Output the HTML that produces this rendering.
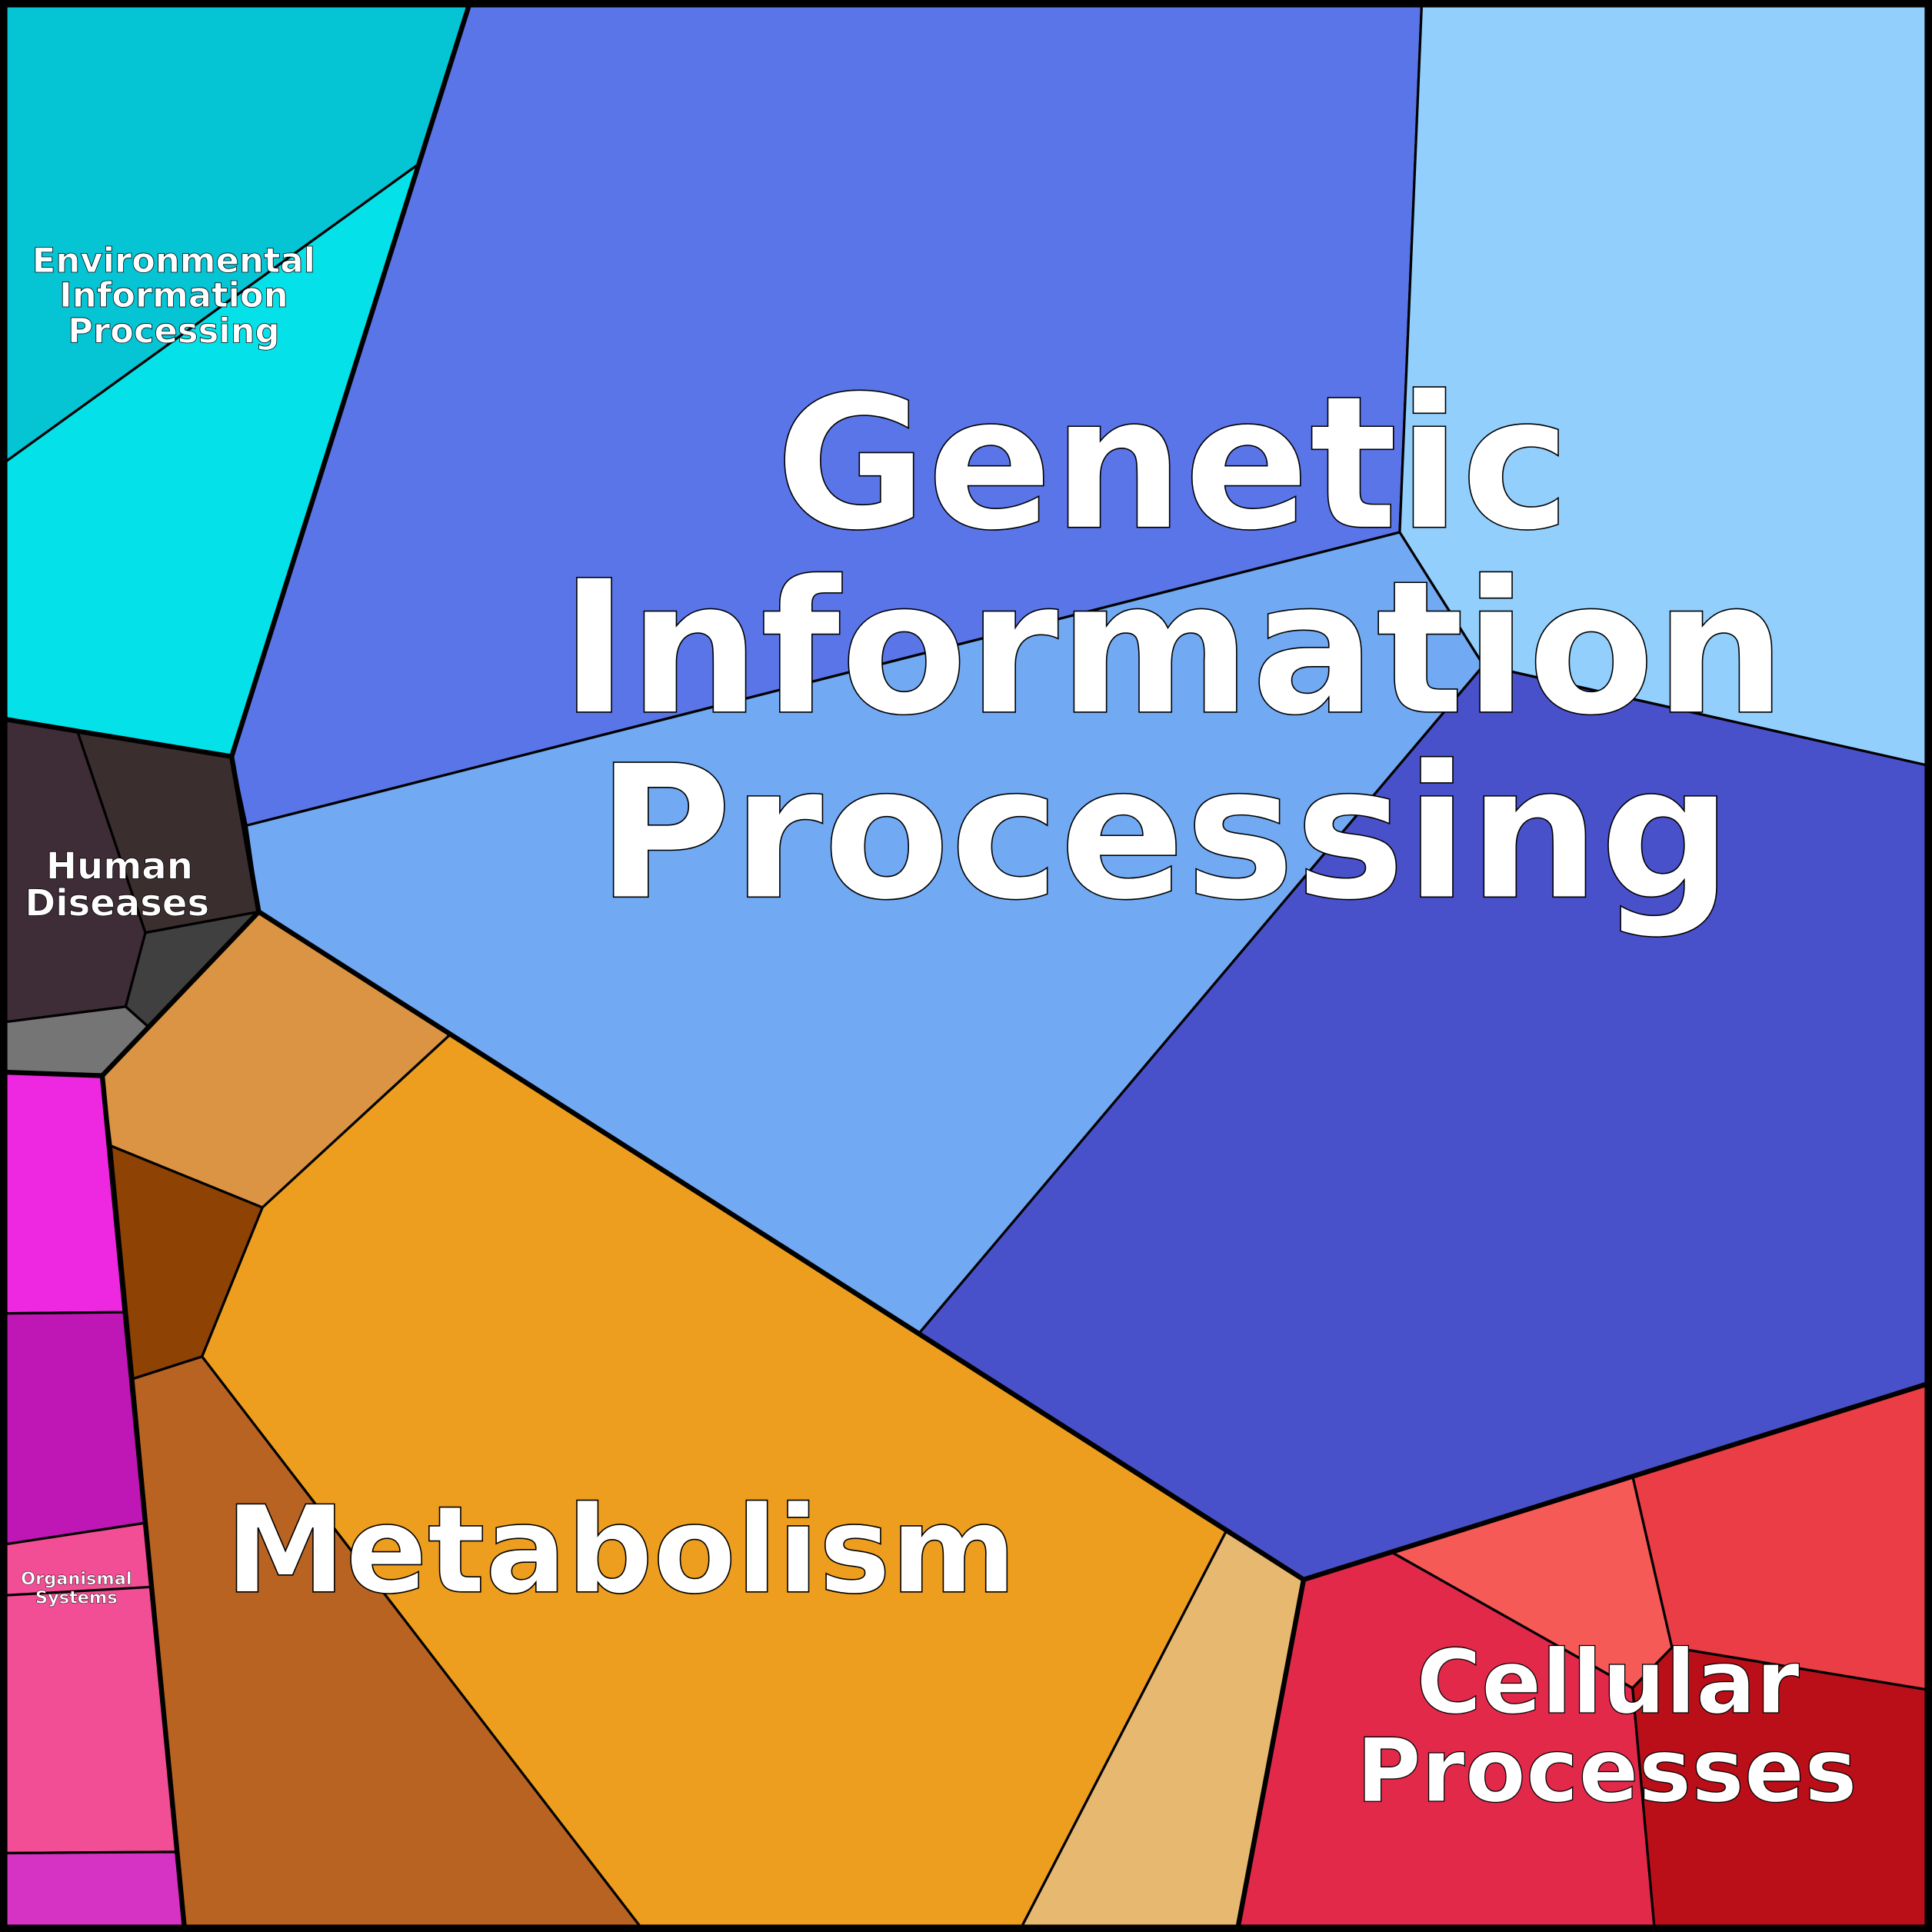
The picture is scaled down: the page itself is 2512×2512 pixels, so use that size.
<!DOCTYPE html>
<html><head><meta charset="utf-8"><style>html,body{margin:0;padding:0;background:#fff}svg{display:block}</style></head>
<body>
<svg width="2512" height="2512" viewBox="0 0 1568 1568" xmlns="http://www.w3.org/2000/svg">
<g stroke="#000" stroke-width="2" stroke-linejoin="round">
<polygon fill="#05C5D5" points="0,0 382,0 340,133 0,378"/>
<polygon fill="#05E1E8" points="340,133 188,614 0,583 0,378"/>
<polygon fill="#5A75E8" points="382,0 1154,0 1136,432 200,670 188,614"/>
<polygon fill="#93CFFC" points="1154,0 1568,0 1568,622 1204,540 1136,432"/>
<polygon fill="#71A9F2" points="200,670 1136,432 1204,540 746,1082 210,740"/>
<polygon fill="#4951CA" points="1204,540 1568,622 1568,1122 1058,1282 746,1082"/>
<polygon fill="#3E2C36" points="0,583 63,594 118,757 102,817 0,830"/>
<polygon fill="#3A2E2F" points="63,594 188,614 210,740 118,757"/>
<polygon fill="#404040" points="118,757 210,740 120,833 102,817"/>
<polygon fill="#757575" points="0,830 102,817 120,833 83,873 0,870"/>
<polygon fill="#DB9443" points="83,873 210,740 365,840 213,980 90,930"/>
<polygon fill="#8E4204" points="90,930 213,980 164,1101 108,1119"/>
<polygon fill="#EE9E1E" points="365,840 995,1243 827,1568 523,1568 164,1101 213,980"/>
<polygon fill="#B86322" points="108,1119 164,1101 523,1568 150,1568"/>
<polygon fill="#E6B870" points="995,1243 1058,1282 1004,1568 827,1568"/>
<polygon fill="#EE28E0" points="0,870 83,873 101,1065 0,1066"/>
<polygon fill="#BF17B6" points="0,1066 101,1065 118,1236 0,1254"/>
<polygon fill="#F24E96" points="0,1254 118,1236 143,1503 0,1504"/>
<line x1="0" y1="1295" x2="122" y2="1288"/>
<polygon fill="#D633C5" points="0,1504 143,1503 150,1568 0,1568"/>
<polygon fill="#E3294A" points="1058,1282 1130,1260 1325,1370 1343,1568 1004,1568"/>
<polygon fill="#F65A57" points="1130,1260 1325,1198 1357,1337 1325,1370"/>
<polygon fill="#EA3D45" points="1325,1198 1568,1122 1568,1372 1357,1337"/>
<polygon fill="#BA0E18" points="1357,1337 1568,1372 1568,1568 1343,1568 1325,1370"/>
</g>
<g stroke="#000" stroke-width="4" fill="none" stroke-linejoin="round">
<polyline points="382,0 188,614 0,583"/>
<polyline points="188,614 210,740 1058,1282 1568,1122"/>
<polyline points="210,740 83,873 150,1568"/>
<polyline points="83,873 0,870"/>
<polyline points="1058,1282 1004,1568"/>
<rect x="2" y="2" width="1564" height="1564" stroke-width="8"/>
</g>
<g font-family="'DejaVu Sans','Liberation Sans',sans-serif" font-weight="bold" fill="#fff" stroke="#000" text-anchor="middle">
<g font-size="150" stroke-width="1">
<text x="952" y="428">Genetic</text>
<text x="952" y="578">Information</text>
<text x="945" y="728">Processing</text>
</g>
<text x="504" y="1292" font-size="98" stroke-width="1">Metabolism</text>
<g font-size="72" stroke-width="0.8">
<text x="1305" y="1390">Cellular</text>
<text x="1304" y="1462">Processes</text>
</g>
<g font-size="28" stroke-width="0.5">
<text x="141" y="221">Environmental</text>
<text x="141" y="249">Information</text>
<text x="141" y="278">Processing</text>
</g>
<g font-size="30" stroke-width="0.5">
<text x="97" y="713">Human</text>
<text x="95" y="743">Diseases</text>
</g>
<g font-size="14" stroke-width="0.3">
<text x="62" y="1286">Organismal</text>
<text x="62" y="1301">Systems</text>
</g>
</g>
</svg>
</body></html>
